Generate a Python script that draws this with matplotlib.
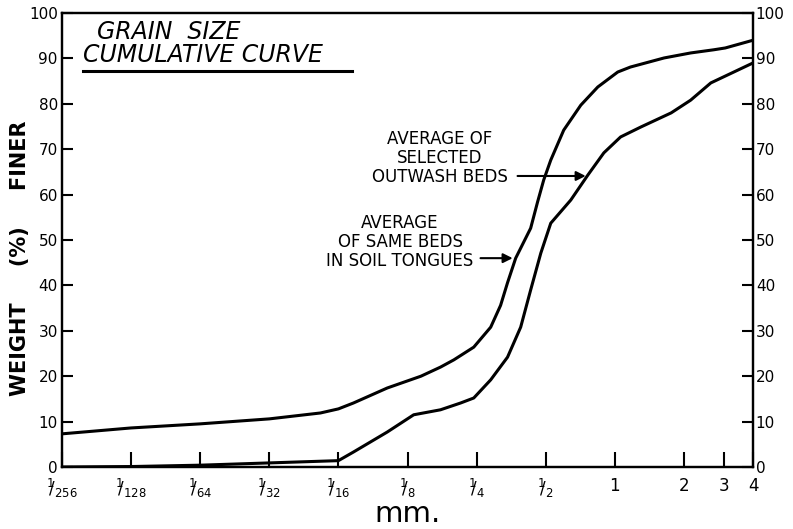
import matplotlib
matplotlib.use("Agg")
import matplotlib.pyplot as plt

# ---- data (grain size in mm, cumulative weight % finer) ----
tick_sizes = [1/256, 1/128, 1/64, 1/32, 1/16, 1/8, 1/4, 1/2, 1, 2, 3, 4]
tick_labels = [r"$^{1}\!\!/_{256}$", r"$^{1}\!\!/_{128}$", r"$^{1}\!\!/_{64}$",
               r"$^{1}\!\!/_{32}$", r"$^{1}\!\!/_{16}$", r"$^{1}\!\!/_{8}$",
               r"$^{1}\!\!/_{4}$", r"$^{1}\!\!/_{2}$", "1", "2", "3", "4"]
y_ticks = [0, 10, 20, 30, 40, 50, 60, 70, 80, 90, 100]

# Average of same beds in soil tongues
soil_size = [0.0039, 0.0078, 0.0156, 0.03125, 0.0522, 0.0625, 0.0727, 0.102,
             0.143, 0.174, 0.199, 0.243, 0.288, 0.318, 0.341, 0.370, 0.430,
             0.461, 0.49, 0.526, 0.599, 0.711, 0.843, 1.03, 1.17, 1.64, 2.14,
             2.70, 3.03, 4.0]
soil_pct = [7.3, 8.6, 9.5, 10.6, 11.9, 12.8, 14.1, 17.4,
            20.0, 22.0, 23.6, 26.4, 30.8, 35.6, 40.6, 46.0, 52.6,
            58.4, 63.2, 67.6, 74.2, 79.7, 83.7, 87.0, 88.1, 90.1, 91.2,
            91.9, 92.3, 94.0]

# Average of selected outwash beds
wash_size = [0.0039, 0.0078, 0.0156, 0.03125, 0.0625, 0.0727, 0.102, 0.133,
             0.174, 0.213, 0.243, 0.288, 0.341, 0.389, 0.430, 0.476, 0.526,
             0.643, 0.763, 0.896, 1.06, 1.30, 1.76, 2.14, 2.62, 4.0]
wash_pct = [0.0, 0.1, 0.4, 0.9, 1.4, 3.3, 7.7, 11.5,
            12.6, 14.1, 15.2, 19.2, 24.2, 30.8, 39.0, 47.1, 53.7,
            58.8, 64.3, 69.2, 72.7, 74.9, 78.0, 80.8, 84.6, 89.0]

fig = plt.figure(figsize=(7.93, 5.29), dpi=100)
ax = fig.add_axes([62/793, 1-467/529, (753-62)/793, (467-13)/529])

for xs, ys in ((soil_size, soil_pct), (wash_size, wash_pct)):
    ax.plot(xs, ys, color="black", lw=2.2, solid_capstyle="round",
            solid_joinstyle="round")

ax.set_xscale("log", base=2)
ax.set_xlim(1/256, 4)
ax.set_ylim(0, 100)
ax.set_xticks(tick_sizes)
ax.set_xticklabels(tick_labels, fontsize=12)
ax.xaxis.set_minor_locator(matplotlib.ticker.NullLocator())
ax.set_yticks(y_ticks)
ax.set_yticklabels([str(v) for v in y_ticks], fontsize=11)
ax.tick_params(axis="x", direction="in", length=11, width=1.5, pad=7)
ax.tick_params(axis="y", direction="in", length=8, width=1.5, pad=3)

ax2 = ax.twinx()
ax2.set_ylim(0, 100)
ax2.set_yticks(y_ticks)
ax2.set_yticklabels([str(v) for v in y_ticks], fontsize=11)
ax2.tick_params(axis="y", direction="in", length=8, width=1.5, pad=2)

for a in (ax, ax2):
    for s in a.spines.values():
        s.set_linewidth(1.6)

ax.set_xlabel("mm.", fontsize=21, labelpad=0)
fig.text(20/793, 1-258/529, "WEIGHT     (%)     FINER", rotation=90, fontsize=15,
         fontweight="bold", ha="center", va="center")

# title
fig.text(97/793, 1-32/529, "GRAIN  SIZE", fontsize=17, style="italic",
         ha="left", va="center")
fig.text(83/793, 1-55/529, "CUMULATIVE CURVE", fontsize=17, style="italic",
         ha="left", va="center")
ax.plot([(83-62)/691, (352-62)/691], [1-(71-13)/454]*2, transform=ax.transAxes,
        color="black", lw=2.2, clip_on=False)

# annotations
fig.text(440/793, 1-158/529, "AVERAGE OF\nSELECTED\nOUTWASH BEDS", fontsize=12,
         ha="center", va="center", multialignment="center", linespacing=1.1)
ax.annotate("", xy=(0.747, 64.1), xytext=(0.377, 64.1),
            arrowprops=dict(arrowstyle="-|>", color="black", lw=1.5,
                            shrinkA=0, shrinkB=0, mutation_scale=14))
fig.text(400/793, 1-242/529, "AVERAGE\nOF SAME BEDS\nIN SOIL TONGUES", fontsize=12,
         ha="center", va="center", multialignment="center", linespacing=1.1)
ax.annotate("", xy=(0.359, 46.0), xytext=(0.26, 46.0),
            arrowprops=dict(arrowstyle="-|>", color="black", lw=1.5,
                            shrinkA=0, shrinkB=0, mutation_scale=14))

fig.savefig("out.png", dpi=100)
